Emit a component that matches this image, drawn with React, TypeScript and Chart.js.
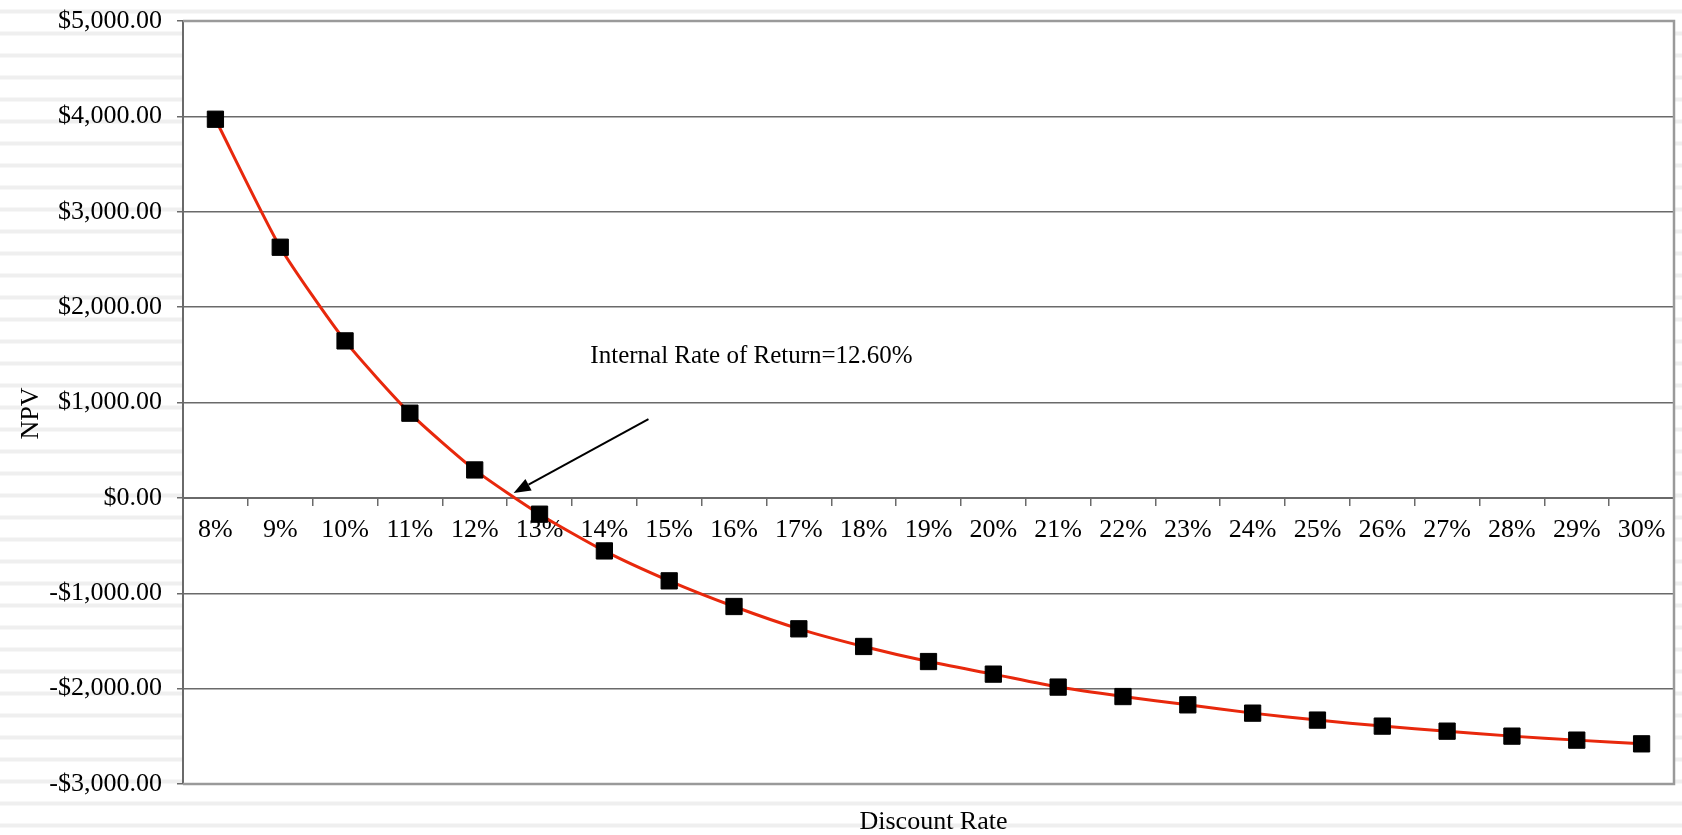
import React, { useEffect, useRef } from 'react';
import { Chart, registerables } from 'chart.js';

Chart.register(...registerables);

// ---- data ----
const categories = ['8%', '9%', '10%', '11%', '12%', '13%', '14%', '15%', '16%', '17%', '18%', '19%', '20%', '21%', '22%', '23%', '24%', '25%', '26%', '27%', '28%', '29%', '30%'];
const npvValues = [3970, 2628, 1646, 888, 293, -171, -556, -870, -1139, -1373, -1558, -1716, -1848, -1984, -2083, -2170, -2257, -2330, -2393, -2446, -2498, -2540, -2579];
const yMin = -3000;
const yMax = 5000;
const yStep = 1000;
const xTitle = 'Discount Rate';
const yTitle = 'NPV';
const irrLabel = 'Internal Rate of Return=12.60%';
const irrRate = 12.6;
const firstRate = 8;

const FONT = '"Liberation Serif", "Times New Roman", serif';

function formatMoney(v: number): string {
  const s = Math.abs(v).toLocaleString('en-US', { minimumFractionDigits: 2, maximumFractionDigits: 2 });
  return (v < 0 ? '-' : '') + '$' + s;
}

const framePlugin = {
  id: 'frame',
  beforeDraw(chart: any) {
    const { ctx, chartArea: a } = chart;
    ctx.save();
    ctx.fillStyle = '#ffffff';
    ctx.fillRect(a.left, a.top, a.right - a.left, a.bottom - a.top);
    ctx.restore();
  },
  afterDatasetsDraw(chart: any) {
    const { ctx, scales } = chart;
    const xs = scales.x;
    const ys = scales.y;
    ctx.save();
    ctx.fillStyle = '#000';
    ctx.font = `25px ${FONT}`;
    ctx.textAlign = 'center';
    ctx.textBaseline = 'middle';
    ctx.fillText(irrLabel, xs.getPixelForValue(8.27), ys.getPixelForValue(1485));
    const tx = xs.getPixelForValue(irrRate - firstRate);
    const ty = ys.getPixelForValue(0) - 5;
    const sx = xs.getPixelForValue(6.68);
    const sy = ys.getPixelForValue(825);
    const ang = Math.atan2(ty - sy, tx - sx);
    const headLen = 17;
    const headHalf = 6.5;
    const bx = tx - headLen * Math.cos(ang);
    const by = ty - headLen * Math.sin(ang);
    ctx.strokeStyle = '#000';
    ctx.lineWidth = 2;
    ctx.beginPath();
    ctx.moveTo(sx, sy);
    ctx.lineTo(bx, by);
    ctx.stroke();
    ctx.beginPath();
    ctx.moveTo(tx, ty);
    ctx.lineTo(bx + headHalf * Math.sin(ang), by - headHalf * Math.cos(ang));
    ctx.lineTo(bx - headHalf * Math.sin(ang), by + headHalf * Math.cos(ang));
    ctx.closePath();
    ctx.fillStyle = '#000';
    ctx.fill();
    ctx.restore();
  },
  afterDraw(chart: any) {
    const { ctx, chartArea: a } = chart;
    ctx.save();
    ctx.strokeStyle = '#9a9a9a';
    ctx.lineWidth = 2.5;
    ctx.beginPath();
    ctx.moveTo(a.left, a.top);
    ctx.lineTo(a.right, a.top);
    ctx.lineTo(a.right, a.bottom);
    ctx.lineTo(a.left, a.bottom);
    ctx.stroke();
    ctx.fillStyle = '#000';
    ctx.font = `26px ${FONT}`;
    ctx.textAlign = 'center';
    ctx.textBaseline = 'middle';
    ctx.fillText(xTitle, (a.left + a.right) / 2 + 5, a.bottom + 38);
    ctx.translate(31, (a.top + a.bottom) / 2 + 11);
    ctx.rotate(-Math.PI / 2);
    ctx.fillText(yTitle, 0, 0);
    ctx.restore();
  },
};

export default function App() {
  const ref = useRef<HTMLCanvasElement | null>(null);

  useEffect(() => {
    document.body.style.margin = '0';
    const canvas = ref.current;
    if (!canvas) return;
    const chart = new Chart(canvas, {
      type: 'line',
      data: {
        labels: categories,
        datasets: [
          {
            data: npvValues,
            borderColor: '#e8280c',
            borderWidth: 3,
            tension: 0.2,
            pointStyle: 'rect',
            pointRadius: 11.5,
            pointHoverRadius: 11.5,
            pointBackgroundColor: '#000',
            pointBorderColor: '#000',
            pointBorderWidth: 1,
            fill: false,
            clip: false as any,
          },
        ],
      },
      options: {
        responsive: false,
        animation: false,
        devicePixelRatio: 1,
        layout: { autoPadding: false, padding: { left: 0, top: 21, right: 8, bottom: 51 } },
        plugins: {
          legend: { display: false },
          tooltip: { enabled: false },
        },
        scales: {
          x: {
            type: 'category',
            position: { y: 0 } as any,
            offset: true,
            grid: {
              display: true,
              drawOnChartArea: false,
              drawTicks: true,
              tickLength: 7,
              color: '#6a6a6a',
              lineWidth: 1.5,
              offset: true,
            },
            border: { display: true, color: '#6a6a6a', width: 2 },
            ticks: {
              autoSkip: false,
              maxRotation: 0,
              minRotation: 0,
              padding: 10,
              color: '#000',
              font: { family: FONT, size: 26 },
            },
            afterFit(scale: any) {
              scale.height = 0;
              scale.paddingLeft = 0;
              scale.paddingRight = 0;
            },
          },
          y: {
            type: 'linear',
            min: yMin,
            max: yMax,
            ticks: {
              stepSize: yStep,
              padding: 15,
              color: '#000',
              font: { family: FONT, size: 26 },
              callback: (v: any) => formatMoney(Number(v)),
            },
            grid: {
              color: '#6a6a6a',
              lineWidth: 1.5,
              tickLength: 6,
              drawTicks: true,
            },
            border: { display: true, color: '#6a6a6a', width: 2 },
            afterFit(scale: any) {
              scale.width = 183;
              scale.paddingTop = 0;
              scale.paddingBottom = 0;
            },
          },
        },
      },
      plugins: [framePlugin],
    } as any);
    return () => chart.destroy();
  }, []);

  return (
    <div
      style={{
        width: 1682,
        height: 835,
        overflow: 'hidden',
        backgroundColor: '#fff',
        backgroundImage:
          'repeating-linear-gradient(to bottom, #ffffff 0px, #ffffff 9px, #efefef 10px, #efefef 13px, #ffffff 14px, #ffffff 22px)',
      }}
    >
      <canvas ref={ref} width={1682} height={835} style={{ display: 'block' }} />
    </div>
  );
}
